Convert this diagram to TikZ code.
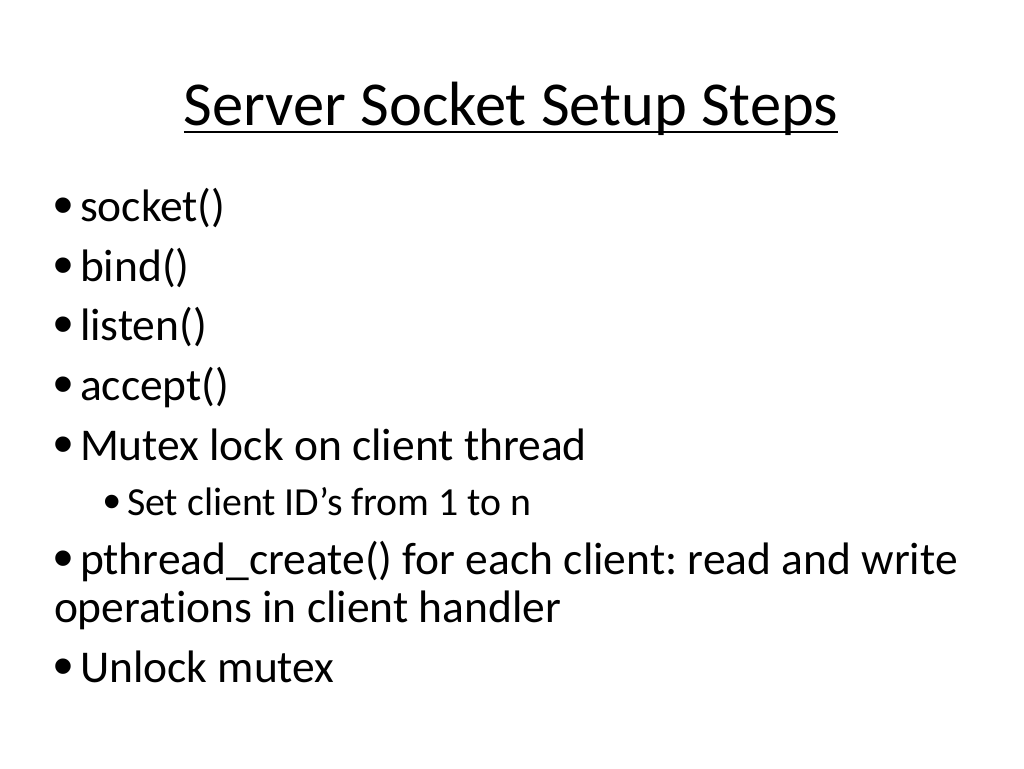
\documentclass[tikz,border=0pt]{standalone}
\usepackage{fontspec}
\setmainfont[Ligatures=NoCommon]{Carlito}
\newfontfamily\bulfont[Scale=1.25]{Liberation Sans}
\newcommand{\mybul}[1]{\makebox[#1][l]{\raisebox{-0.08em}{\bulfont •}}}
\frenchspacing
\begin{document}
\begin{tikzpicture}[x=1pt,y=-1pt,
  every node/.style={inner sep=0pt,outer sep=0pt,anchor=base west},
  titletext/.style={font=\fontsize{62.5}{70}\selectfont,anchor=base},
  body/.style={font=\fontsize{45.5}{52}\selectfont},
  sub/.style={font=\fontsize{39.8}{46}\selectfont}]
\useasboundingbox[fill=white] (0,0) rectangle (1024,768);
\node[titletext] (title) at (511,125) {Server Socket Setup Steps};
\draw[line width=2.6pt] ([yshift=-7pt]title.base west) -- ([yshift=-7pt]title.base east);
\node[body] (b1) at (53,221) {\mybul{27pt}socket()};
\node[body] (b2) at (53,281) {\mybul{27pt}bind()};
\node[body] (b3) at (53,340) {\mybul{27pt}listen()};
\node[body] (b4) at (53,400) {\mybul{27pt}accept()};
\node[body] (b5) at (53,460) {\mybul{27pt}Mutex lock on client thread};
\node[sub] (s1) at (103,515) {\mybul{24pt}Set client ID’s from 1 to n};
\node[body] (b6) at (53,574) {\mybul{27pt}pthread\_create() for each client: read and write};
\node[body] (b6b) at (54,622) {operations in client handler};
\node[body] (b7) at (53,682) {\mybul{27pt}Unlock mutex};
\end{tikzpicture}
\end{document}
